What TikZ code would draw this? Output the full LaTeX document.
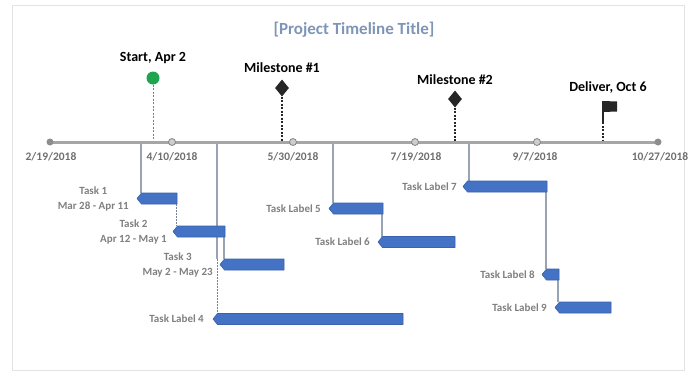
\documentclass[tikz,border=0pt]{standalone}
\usepackage{fontspec}
\setmainfont{Carlito}
\usetikzlibrary{shapes.geometric,calc}

\definecolor{barblue}{HTML}{4472C4}
\definecolor{baredge}{HTML}{3A62AD}
\definecolor{linkgray}{HTML}{98A3B5}
\definecolor{axisgray}{HTML}{A6A6A6}
\definecolor{labelgray}{HTML}{7F7F7F}
\definecolor{dategray}{HTML}{6E6E6E}
\definecolor{titleblue}{HTML}{7F95B6}
\definecolor{startgreen}{HTML}{1FA550}

% task bar box: name, left tip x, right end x, centre y
\newcommand\taskbox[4]{%
  \node[barbox, minimum width={#3-#2}] (#1) at ({(#2+#3)/2},#4) {};}
% filled bar with a pointed left end, drawn over a named box
\newcommand\fillbar[1]{%
  \path[barfill] (#1.west) -- ([xshift=4.5pt]#1.north west) -- (#1.north east)
    -- (#1.south east) -- ([xshift=4.5pt]#1.south west) -- cycle;}

\begin{document}
\begin{tikzpicture}[x=1pt,y=-1pt,
  barbox/.style={rectangle, inner sep=0, outer sep=0, minimum height=11pt},
  barfill/.style={fill=barblue, draw=baredge, line width=0.6pt, line join=round},
  link/.style={draw=linkgray, line width=1.3pt},
  linkdot/.style={draw=linkgray!80!black, line width=0.8pt, dash pattern=on 1.5pt off 1.5pt},
  tasklabel/.style={anchor=east, inner sep=0, text=labelgray, align=center,
    font=\fontsize{11}{15}\selectfont\bfseries},
  datelabel/.style={inner sep=0, text=dategray, font=\fontsize{11.5}{13}\selectfont\bfseries},
  mslabel/.style={inner sep=0, font=\fontsize{14}{16}\selectfont\bfseries},
  axisline/.style={draw=axisgray, line width=3pt},
  axisdot/.style={circle, fill=axisgray!85!black, inner sep=0, minimum size=7pt},
  tickdot/.style={circle, draw=axisgray!80!black, fill=axisgray!55, line width=0.8pt, inner sep=0, minimum size=7pt},
  diamondmark/.style={diamond, fill=black!85, inner sep=0, minimum width=14pt, minimum height=17pt},
  startdash/.style={draw=gray, line width=0.8pt, dash pattern=on 2pt off 1.5pt},
  msdot/.style={draw=black!85, line width=1.6pt, dash pattern=on 2pt off 1.5pt},
]
\useasboundingbox (0,0) rectangle (691,373);

% outer frame
\draw[gray!22, line width=0.8pt] (12,5) rectangle (684,370);

% title
\node[font=\fontsize{17}{20}\selectfont\bfseries, text=titleblue] (title) at (354,30) {[Project Timeline Title]};

% axis end points and drop points
\coordinate (axL) at (50,142);
\coordinate (axR) at (658,142);
\coordinate (d1) at (141,142);
\coordinate (d4) at (217,142);
\coordinate (d5) at (333,142);
\coordinate (d7) at (469,142);

% task bar boxes
\taskbox{t1}{137}{177}{198.5}
\taskbox{t2}{173}{225}{231.5}
\taskbox{t3}{220}{284}{264.5}
\taskbox{t4}{213}{403}{319}
\taskbox{t5}{329}{383}{208.5}
\taskbox{t6}{378}{455}{242}
\taskbox{t7}{463}{547}{186.5}
\taskbox{t8}{542}{559}{274.5}
\taskbox{t9}{555}{611}{307.5}

% connectors, drawn before the bars
\draw[link] (d1) -- (d1 |- t1.north);
\draw[link] (d4) -- (d4 |- t3.north);
\draw[linkdot] (d4 |- t3.north) -- (d4 |- t4.north);
\draw[link] (d5) -- (d5 |- t5.north);
\draw[link] (d7) -- (d7 |- t7.north);
\draw[linkdot] ([xshift=-1pt]t1.south east) -- ([xshift=-1pt]t1.south east |- t2.north);
\draw[link] ([xshift=-1pt]t2.south east) -- ([xshift=-1pt]t2.south east |- t3.north);
\draw[link] ([xshift=-1pt]t5.south east) -- ([xshift=-1pt]t5.south east |- t6.north);
\draw[link] ([xshift=-1pt]t7.south east) -- ([xshift=-1pt]t7.south east |- t8.north);
\draw[link] ([xshift=-1pt]t8.south east) -- ([xshift=-1pt]t8.south east |- t9.north);

% bars
\foreach \b in {t1,t2,t3,t4,t5,t6,t7,t8,t9}{\fillbar{\b}}

% task labels
\node[tasklabel] (l1) at ([xshift=-8pt]t1.west) {Task 1\\Mar 28 - Apr 11};
\node[tasklabel] (l2) at ([xshift=-6pt]t2.west) {Task 2\\Apr 12 - May 1};
\node[tasklabel] (l3) at ([xshift=-7pt]t3.west) {Task 3\\May 2 - May 23};
\node[tasklabel] (l4) at ([xshift=-9pt]t4.west) {Task Label 4};
\node[tasklabel] (l5) at ([xshift=-8pt]t5.west) {Task Label 5};
\node[tasklabel] (l6) at ([xshift=-8pt]t6.west) {Task Label 6};
\node[tasklabel] (l7) at ([xshift=-6pt]t7.west) {Task Label 7};
\node[tasklabel] (l8) at ([xshift=-7pt]t8.west) {Task Label 8};
\node[tasklabel] (l9) at ([xshift=-8pt]t9.west) {Task Label 9};

% milestone markers and stems
\node[circle, fill=startgreen, minimum size=13pt, inner sep=0] (start) at (153,78) {};
\coordinate (startax) at (153,142);
\draw[startdash] (start) -- (startax);

\node[diamondmark] (m1) at (282,88) {};
\coordinate (m1ax) at (282,142);
\draw[msdot] (m1) -- (m1ax);

\node[diamondmark] (m2) at (455,99) {};
\coordinate (m2ax) at (455,142);
\draw[msdot] (m2) -- (m2ax);

% delivery flag
\coordinate (flagtop) at (603,101);
\coordinate (flagbase) at (603,122);
\draw[black!85, line width=1.6pt] (flagtop) -- (flagbase);
\fill[black!85] (flagtop) -- ++(14,0.5) -- ++(0,10) -- ++(-14,0.5) -- cycle;
\draw[msdot, line width=1.2pt] (flagbase) -- (flagbase |- axL);

% timeline axis
\draw[axisline] (axL) -- (axR);
\node[axisdot] (e0) at (axL) {};
\node[axisdot] (e5) at (axR) {};
\node[tickdot] (k1) at (172,142) {};
\node[tickdot] (k2) at (293,142) {};
\node[tickdot] (k3) at (415,142) {};
\node[tickdot] (k4) at (537,142) {};

% dates
\node[datelabel] (dt0) at (51,157) {2/19/2018};
\node[datelabel] (dt1) at (172,157) {4/10/2018};
\node[datelabel] (dt2) at (293,157) {5/30/2018};
\node[datelabel] (dt3) at (416,157) {7/19/2018};
\node[datelabel] (dt4) at (535,157) {9/7/2018};
\node[datelabel] (dt5) at (660,157) {10/27/2018};

% milestone labels
\node[mslabel] (startlbl) at (153,58) {Start, Apr 2};
\node[mslabel] (m1lbl) at (282,68) {Milestone \#1};
\node[mslabel] (m2lbl) at (455,80) {Milestone \#2};
\node[mslabel] (dlvlbl) at (608,88) {Deliver, Oct 6};
\end{tikzpicture}
\end{document}
